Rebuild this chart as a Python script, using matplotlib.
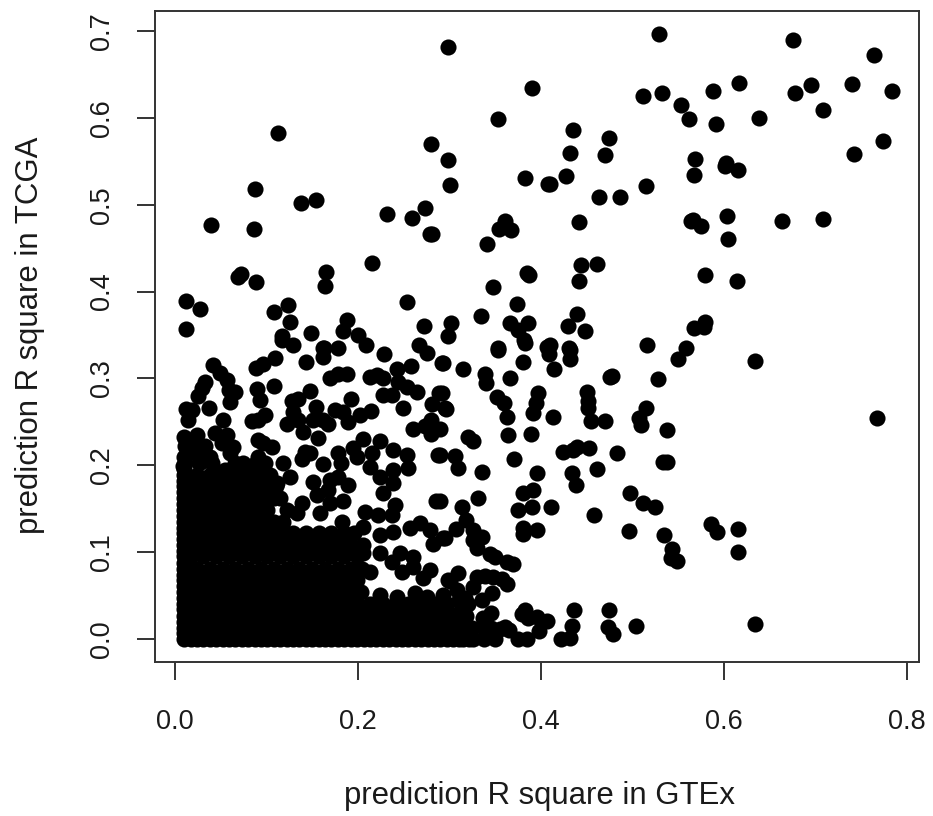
import matplotlib
matplotlib.use("Agg")
import matplotlib.pyplot as plt

# points, top of the plot first
gtex_top = [0.298, 0.390, 0.353, 0.112, 0.280, 0.298, 0.300, 0.383, 0.408, 0.087, 0.138, 0.154, 0.273, 0.259, 0.232,
            0.039, 0.086, 0.281, 0.279, 0.361, 0.354, 0.367, 0.341, 0.215, 0.165, 0.164, 0.072, 0.069, 0.089, 0.385,
            0.387, 0.348, 0.012, 0.027, 0.012, 0.123, 0.108, 0.126, 0.117, 0.129, 0.149, 0.188, 0.184, 0.200, 0.209,
            0.163, 0.178, 0.254, 0.272, 0.302, 0.298, 0.267, 0.334, 0.374, 0.366, 0.386, 0.375, 0.381, 0.353, 0.407]
tcga_top = [0.682, 0.634, 0.599, 0.583, 0.570, 0.552, 0.523, 0.531, 0.524, 0.518, 0.502, 0.505, 0.496, 0.485, 0.489,
            0.477, 0.472, 0.466, 0.466, 0.481, 0.472, 0.471, 0.455, 0.433, 0.422, 0.406, 0.420, 0.417, 0.411, 0.421,
            0.419, 0.405, 0.389, 0.380, 0.357, 0.385, 0.376, 0.365, 0.349, 0.338, 0.352, 0.367, 0.355, 0.350, 0.338,
            0.335, 0.335, 0.388, 0.360, 0.364, 0.349, 0.338, 0.372, 0.386, 0.364, 0.364, 0.356, 0.344, 0.335, 0.336]

gtex_right = [0.529, 0.675, 0.764, 0.616, 0.588, 0.532, 0.511, 0.553, 0.562, 0.591, 0.638, 0.695, 0.678, 0.740, 0.784,
              0.708, 0.742, 0.774, 0.435, 0.474, 0.432, 0.470, 0.427, 0.410, 0.568, 0.567, 0.602, 0.601, 0.615, 0.515,
              0.463, 0.486, 0.442, 0.566, 0.564, 0.575, 0.603, 0.604, 0.663, 0.708, 0.579, 0.614, 0.444, 0.461, 0.442,
              0.439, 0.430, 0.448, 0.410, 0.431, 0.516, 0.558, 0.579, 0.578, 0.567, 0.634, 0.767]
tcga_right = [0.697, 0.690, 0.672, 0.640, 0.631, 0.629, 0.625, 0.615, 0.599, 0.593, 0.600, 0.638, 0.629, 0.639, 0.631,
              0.609, 0.558, 0.573, 0.586, 0.577, 0.559, 0.557, 0.533, 0.524, 0.553, 0.534, 0.548, 0.545, 0.540, 0.522,
              0.509, 0.509, 0.480, 0.482, 0.481, 0.475, 0.487, 0.460, 0.481, 0.483, 0.419, 0.412, 0.431, 0.432, 0.412,
              0.374, 0.360, 0.355, 0.338, 0.335, 0.338, 0.335, 0.365, 0.359, 0.358, 0.320, 0.254]

gtex_mid = [0.353, 0.383, 0.409, 0.432, 0.432, 0.550, 0.380, 0.414, 0.315, 0.293, 0.339, 0.340, 0.366, 0.478, 0.475,
            0.528, 0.292, 0.296, 0.352, 0.360, 0.363, 0.397, 0.395, 0.391, 0.413, 0.450, 0.451, 0.451, 0.455, 0.470,
            0.515, 0.507, 0.509, 0.538, 0.364, 0.389, 0.320, 0.326, 0.290, 0.370, 0.424, 0.435, 0.439, 0.452, 0.483,
            0.306, 0.309, 0.290, 0.336, 0.396, 0.434, 0.438, 0.461, 0.533, 0.538, 0.391, 0.380, 0.331, 0.290, 0.314,
            0.375, 0.390, 0.411, 0.458, 0.497, 0.511, 0.525, 0.496, 0.534, 0.543, 0.542, 0.549, 0.586, 0.592, 0.615,
            0.615, 0.380, 0.380, 0.396, 0.318, 0.307, 0.295, 0.326, 0.336, 0.326, 0.330, 0.344, 0.350, 0.363, 0.369]
tcga_mid = [0.333, 0.341, 0.328, 0.333, 0.322, 0.322, 0.319, 0.311, 0.311, 0.318, 0.305, 0.295, 0.300, 0.303, 0.302,
            0.299, 0.283, 0.265, 0.279, 0.272, 0.256, 0.283, 0.272, 0.260, 0.256, 0.284, 0.274, 0.266, 0.251, 0.251,
            0.266, 0.254, 0.246, 0.241, 0.235, 0.236, 0.233, 0.228, 0.242, 0.207, 0.215, 0.218, 0.221, 0.220, 0.214,
            0.211, 0.197, 0.212, 0.192, 0.191, 0.191, 0.177, 0.196, 0.204, 0.204, 0.172, 0.168, 0.162, 0.159, 0.152,
            0.149, 0.152, 0.152, 0.143, 0.168, 0.157, 0.152, 0.124, 0.120, 0.104, 0.093, 0.090, 0.132, 0.123, 0.127,
            0.100, 0.128, 0.121, 0.125, 0.137, 0.127, 0.116, 0.125, 0.117, 0.114, 0.105, 0.098, 0.094, 0.089, 0.086]

gtex_low = [0.309, 0.301, 0.330, 0.339, 0.348, 0.357, 0.363, 0.346, 0.317, 0.326, 0.308, 0.383, 0.379, 0.386, 0.396,
            0.407, 0.398, 0.436, 0.434, 0.432, 0.422, 0.474, 0.473, 0.479, 0.504, 0.634, 0.361, 0.337, 0.337,
            0.310, 0.320, 0.335, 0.345, 0.355, 0.365, 0.310]
tcga_low = [0.076, 0.067, 0.071, 0.073, 0.071, 0.069, 0.063, 0.053, 0.047, 0.060, 0.056, 0.033, 0.029, 0.024, 0.025,
            0.021, 0.009, 0.033, 0.015, 0.001, 0.000, 0.033, 0.014, 0.006, 0.015, 0.017, 0.014, 0.024, 0.014,
            0.030, 0.040, 0.045, 0.030, 0.012, 0.010, 0.045]

gtex_left = [0.042, 0.049, 0.057, 0.066, 0.059, 0.060, 0.033, 0.030, 0.025, 0.012, 0.019, 0.037, 0.014, 0.052, 0.010,
             0.024, 0.044, 0.057, 0.063, 0.051, 0.060, 0.020, 0.009, 0.027, 0.038, 0.089, 0.096, 0.109, 0.117, 0.143,
             0.162, 0.162, 0.228, 0.275, 0.292, 0.258, 0.243, 0.213, 0.221, 0.227, 0.169, 0.178, 0.188, 0.108, 0.090,
             0.093, 0.098, 0.091, 0.084, 0.148, 0.128, 0.134, 0.129, 0.122, 0.134, 0.140, 0.154, 0.151, 0.162, 0.156,
             0.167, 0.175, 0.184, 0.192, 0.189, 0.202, 0.214, 0.227, 0.237, 0.244, 0.254, 0.264, 0.249, 0.289, 0.281,
             0.295, 0.280, 0.260, 0.273, 0.282, 0.280, 0.287, 0.285]
tcga_left = [0.315, 0.306, 0.298, 0.284, 0.287, 0.273, 0.296, 0.289, 0.280, 0.265, 0.264, 0.266, 0.252, 0.252, 0.233,
             0.235, 0.237, 0.235, 0.221, 0.226, 0.214, 0.221, 0.199, 0.212, 0.210, 0.312, 0.317, 0.323, 0.344, 0.319,
             0.325, 0.335, 0.328, 0.329, 0.318, 0.314, 0.311, 0.302, 0.304, 0.300, 0.300, 0.305, 0.305, 0.291, 0.288,
             0.275, 0.258, 0.252, 0.251, 0.286, 0.274, 0.276, 0.261, 0.248, 0.252, 0.238, 0.267, 0.252, 0.252, 0.231,
             0.248, 0.264, 0.261, 0.276, 0.250, 0.258, 0.262, 0.281, 0.281, 0.296, 0.290, 0.284, 0.266, 0.283, 0.271,
             0.266, 0.252, 0.242, 0.245, 0.243, 0.236, 0.212, 0.159]

gtex_inner = [0.091, 0.106, 0.096, 0.091, 0.118, 0.126, 0.111, 0.142, 0.148, 0.139, 0.162, 0.178, 0.181, 0.195, 0.205,
              0.199, 0.224, 0.215, 0.213, 0.224, 0.238, 0.254, 0.255, 0.238, 0.238, 0.227, 0.240, 0.237, 0.222, 0.208,
              0.151, 0.155, 0.169, 0.178, 0.189, 0.167, 0.184, 0.169, 0.139, 0.133, 0.158, 0.183, 0.205, 0.224, 0.238,
              0.257, 0.268, 0.279, 0.293, 0.282, 0.224, 0.237, 0.246, 0.260, 0.248, 0.260, 0.279, 0.271, 0.298, 0.213,
              0.205, 0.224, 0.243, 0.262, 0.293, 0.275]
tcga_inner = [0.229, 0.221, 0.226, 0.210, 0.203, 0.187, 0.180, 0.215, 0.214, 0.207, 0.201, 0.214, 0.203, 0.220, 0.230,
              0.210, 0.228, 0.214, 0.198, 0.187, 0.218, 0.212, 0.197, 0.195, 0.180, 0.168, 0.154, 0.143, 0.143, 0.146,
              0.181, 0.166, 0.183, 0.187, 0.177, 0.172, 0.159, 0.157, 0.157, 0.145, 0.145, 0.135, 0.129, 0.120, 0.123,
              0.128, 0.134, 0.125, 0.116, 0.109, 0.099, 0.089, 0.099, 0.094, 0.077, 0.083, 0.079, 0.070, 0.068, 0.077,
              0.099, 0.051, 0.048, 0.053, 0.051, 0.048]

# the solid block in the corner hides single points, so these rows only estimate its outline
block_tcga = [0.000, 0.013, 0.027, 0.040, 0.054, 0.068, 0.081, 0.095, 0.108, 0.122, 0.135, 0.149, 0.162, 0.176, 0.189, 0.203]
block_gtex = [
    [0.010, 0.024, 0.038, 0.052, 0.066, 0.080, 0.094, 0.108, 0.122, 0.136, 0.150, 0.164, 0.178, 0.192, 0.206, 0.220,
     0.234, 0.248, 0.262, 0.276, 0.290, 0.304, 0.315, 0.326, 0.350, 0.375, 0.385],
    [0.010, 0.017, 0.031, 0.045, 0.059, 0.073, 0.087, 0.101, 0.115, 0.129, 0.143, 0.157, 0.171, 0.185, 0.199, 0.213,
     0.227, 0.241, 0.255, 0.269, 0.283, 0.297, 0.311, 0.325, 0.345],
    [0.010, 0.024, 0.038, 0.052, 0.066, 0.080, 0.094, 0.108, 0.122, 0.136, 0.150, 0.164, 0.178, 0.192, 0.206, 0.220,
     0.234, 0.248, 0.262, 0.276, 0.290, 0.304, 0.318],
    [0.010, 0.017, 0.031, 0.045, 0.059, 0.073, 0.087, 0.101, 0.115, 0.129, 0.143, 0.157, 0.171, 0.185, 0.199, 0.213,
     0.227, 0.241, 0.255, 0.269, 0.283, 0.297],
    [0.010, 0.024, 0.038, 0.052, 0.066, 0.080, 0.094, 0.108, 0.122, 0.136, 0.150, 0.164, 0.178, 0.192, 0.203],
    [0.010, 0.017, 0.031, 0.045, 0.059, 0.073, 0.087, 0.101, 0.115, 0.129, 0.143, 0.157, 0.171, 0.185, 0.199],
    [0.010, 0.024, 0.038, 0.052, 0.066, 0.080, 0.094, 0.108, 0.122, 0.136, 0.150, 0.164, 0.178, 0.192, 0.204],
    [0.010, 0.017, 0.031, 0.045, 0.059, 0.073, 0.087, 0.101, 0.115, 0.129, 0.143, 0.157, 0.171, 0.185, 0.199],
    [0.010, 0.024, 0.038, 0.052, 0.066, 0.080, 0.094, 0.108, 0.122, 0.136, 0.150, 0.164, 0.178, 0.192, 0.205],
    [0.010, 0.017, 0.031, 0.045, 0.059, 0.073, 0.087, 0.101, 0.115, 0.129, 0.143, 0.157, 0.171, 0.185, 0.196],
    [0.010, 0.024, 0.038, 0.052, 0.066, 0.080, 0.094, 0.108, 0.118],
    [0.010, 0.017, 0.031, 0.045, 0.059, 0.073, 0.087, 0.101, 0.122],
    [0.010, 0.024, 0.038, 0.052, 0.066, 0.080, 0.094, 0.108, 0.115],
    [0.010, 0.017, 0.031, 0.045, 0.059, 0.073, 0.087, 0.101, 0.110],
    [0.010, 0.024, 0.038, 0.052, 0.066, 0.080, 0.094, 0.104],
    [0.011, 0.026, 0.040, 0.074, 0.088, 0.098],
]

# same block: extra points that close the left and bottom edges and the upper left corner
edge_gtex = [0.017, 0.031, 0.045, 0.059, 0.073, 0.087, 0.101, 0.115, 0.129, 0.143, 0.157, 0.171, 0.185, 0.199, 0.213,
             0.227, 0.241, 0.255, 0.269, 0.283, 0.297, 0.310, 0.321, 0.338,
             0.010, 0.010, 0.010, 0.010, 0.010, 0.010, 0.010, 0.010, 0.010, 0.010, 0.010, 0.010, 0.010, 0.010, 0.010,
             0.010, 0.011, 0.020, 0.030, 0.033, 0.045, 0.055, 0.065, 0.082, 0.096, 0.103]
edge_tcga = [0.000, 0.000, 0.000, 0.000, 0.000, 0.000, 0.000, 0.000, 0.000, 0.000, 0.000, 0.000, 0.000, 0.000, 0.000,
             0.000, 0.000, 0.000, 0.000, 0.000, 0.000, 0.000, 0.000, 0.000,
             0.007, 0.020, 0.034, 0.047, 0.061, 0.074, 0.088, 0.101, 0.115, 0.128, 0.142, 0.155, 0.169, 0.182, 0.196,
             0.210, 0.222, 0.215, 0.205, 0.222, 0.190, 0.195, 0.203, 0.198, 0.203, 0.183]

tick_x = [0.0, 0.2, 0.4, 0.6, 0.8]
tick_y = [0.0, 0.1, 0.2, 0.3, 0.4, 0.5, 0.6, 0.7]

plt.rcParams['font.family'] = ['Liberation Sans', 'DejaVu Sans']

fig = plt.figure(figsize=(9.33, 8.16), dpi=100)
ax = fig.add_axes([155 / 933, 1 - 662 / 816, (919 - 155) / 933, (662 - 11) / 816])

groups = [(gtex_top, tcga_top), (gtex_right, tcga_right), (gtex_mid, tcga_mid), (gtex_low, tcga_low),
          (gtex_left, tcga_left), (gtex_inner, tcga_inner), (edge_gtex, edge_tcga)]
for xs, ys in groups:
    ax.plot(xs, ys, 'o', color='black', ms=11.6, mew=0, clip_on=False)
for y, xs in zip(block_tcga, block_gtex):
    ax.plot(xs, [y] * len(xs), 'o', color='black', ms=11.6, mew=0, clip_on=False)

ax.set_xlim(-0.0219, 0.8131)
ax.set_ylim(-0.0265, 0.723)
ax.set_xticks(tick_x)
ax.set_yticks(tick_y)
ax.set_xticklabels(['%.1f' % v for v in tick_x])
ax.set_yticklabels(['%.1f' % v for v in tick_y], rotation=90, va='center')
ax.tick_params(length=13, width=1.4, color='#333333', labelsize=19.5, labelcolor='#1a1a1a')
ax.tick_params(axis='x', pad=21)
ax.tick_params(axis='y', pad=16)
for s in ax.spines.values():
    s.set_linewidth(1.4)
    s.set_color('#333333')

ax.set_xlabel('prediction R square in GTEx', fontsize=22.4, color='#1a1a1a')
ax.set_ylabel('prediction R square in TCGA', fontsize=22.4, color='#1a1a1a')
ax.xaxis.set_label_coords((539 - 155) / 764, -(796 - 662) / 651, transform=ax.transAxes)
ax.yaxis.set_label_coords(-(155 - 30) / 764, (662 - 335) / 651, transform=ax.transAxes)
ax.xaxis.label.set_verticalalignment('center')
ax.yaxis.label.set_verticalalignment('center')

fig.savefig('out.png', dpi=100)
